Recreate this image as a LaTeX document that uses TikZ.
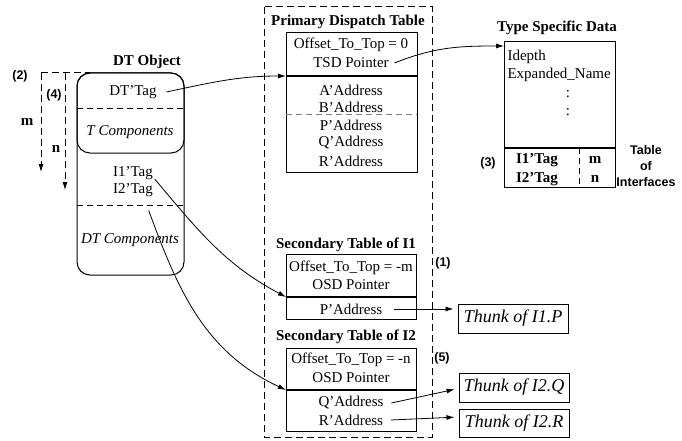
\documentclass[tikz,border=0pt]{standalone}
\usepackage{fontspec}
\setmainfont{Liberation Serif}
\newfontfamily\labelsans{Liberation Sans}
\usetikzlibrary{arrows.meta}
\begin{document}
\begin{tikzpicture}[x=1pt, y=1pt, line width=1pt,
		font=\fontsize{15}{17}\selectfont,
		ptr/.style={-{Latex[length=8pt,width=5pt]}, line width=0.8pt},
		tbltitle/.style={font=\fontsize{15}{17}\selectfont\bfseries},
		numlbl/.style={font=\labelsans\fontsize{12.5}{16}\selectfont\bfseries},
		sep/.style={line width=1.8pt},
		dash box/.style={dash pattern=on 7pt off 4pt},
		dash sep/.style={dash pattern=on 6pt off 4pt},
		thunk/.style={draw, font=\fontsize{18}{20}\selectfont\itshape, minimum width=110pt, minimum height=29pt, inner sep=0pt}]
	\useasboundingbox (0,0) rectangle (682,-441);
	% DT object and offsets
	\node[tbltitle] (dtobj) at (147,-62) {DT Object};
	\draw[rounded corners=13pt] (77,-73) rectangle (184,-275);
	\draw[rounded corners=13pt] (77,-73) rectangle (184,-153);
	\draw[dash sep] (77,-109) -- (184,-109);
	\draw[dash sep] (77,-205) -- (184,-205);
	\node (dttag) at (133,-92) {DT'Tag};
	\node[font=\fontsize{15}{17}\selectfont\itshape] (tcomp) at (130,-132) {T Components};
	\node (i1tag) at (133,-173) {I1'Tag};
	\node (i2tag) at (133,-190) {I2'Tag};
	\node[font=\fontsize{15}{17}\selectfont\itshape] (dtcomp) at (130,-240) {DT Components};
	\coordinate (offm) at (41,-73);
	\coordinate (offn) at (65,-73);
	\draw[dash box] (offm) -- (90,-73);
	\draw[dash box, ptr] (offm) -- (41,-172);
	\draw[dash box, ptr] (offn) -- (65,-190);
	\node[numlbl] (lbl2) at (20,-76) {(2)};
	\node[numlbl] (lbl4) at (54,-95) {(4)};
	\node[font=\fontsize{15}{17}\selectfont\bfseries] (mlbl) at (27,-122) {m};
	\node[font=\fontsize{15}{17}\selectfont\bfseries] (nlbl) at (56,-149) {n};
	% dispatch tables
	\draw[dash box] (264,-7) rectangle (432,-437);
	\node[tbltitle] (pdt) at (348,-22) {Primary Dispatch Table};
	\draw (286,-33) rectangle (417,-172);
	\draw[sep] (286,-76) -- (417,-76);
	\draw[dash sep, gray] (286,-115) -- (417,-115);
	\foreach \y/\t/\n in {45/{Offset\_To\_Top = 0}/poff, 63/TSD Pointer/tsd,
		90/A'Address/pa, 107/B'Address/pb, 125/P'Address/pp,
		143/Q'Address/pq, 161/R'Address/pr}
		\node (\n) at (351,-\y) {\t};
	\coordinate (pdtin) at (286,-76);
	\node[tbltitle] (st1) at (346,-245) {Secondary Table of I1};
	\draw (286,-254) rectangle (416,-319);
	\draw[sep] (286,-297) -- (416,-297);
	\node (s1off) at (351,-268) {Offset\_To\_Top = -m};
	\node (s1osd) at (351,-285) {OSD Pointer};
	\node (s1p) at (351,-309) {P'Address};
	\coordinate (st1in) at (286,-297);
	\node[tbltitle] (st2) at (346,-337) {Secondary Table of I2};
	\draw (286,-348) rectangle (416,-431);
	\draw[sep] (286,-390) -- (416,-390);
	\node (s2off) at (351,-360) {Offset\_To\_Top = -n};
	\node (s2osd) at (351,-378) {OSD Pointer};
	\node (s2q) at (351,-403) {Q'Address};
	\node (s2r) at (351,-420) {R'Address};
	\coordinate (st2in) at (286,-390);
	\node[numlbl] (lbl1) at (443,-263) {(1)};
	\node[numlbl] (lbl5) at (442,-358) {(5)};
	% type specific data
	\node[tbltitle] (tsdt) at (557,-28) {Type Specific Data};
	\draw (504,-42) rectangle (615,-187);
	\draw[sep] (504,-148) -- (615,-148);
	\draw[dash sep] (579,-148) -- (579,-187);
	\node[anchor=west, inner sep=2pt] (idepth) at (505,-57) {Idepth};
	\node[anchor=west, inner sep=2pt] (ename) at (505,-75) {Expanded\_Name};
	\node (dot1) at (568,-94) {:};
	\node (dot2) at (568,-112) {:};
	\node[font=\fontsize{15}{17}\selectfont\bfseries] (ti1) at (537,-160) {I1'Tag};
	\node[font=\fontsize{15}{17}\selectfont\bfseries] (ti2) at (537,-179) {I2'Tag};
	\node[font=\fontsize{15}{17}\selectfont\bfseries] (tim) at (595,-160) {m};
	\node[font=\fontsize{15}{17}\selectfont\bfseries] (tin) at (595,-179) {n};
	\node[numlbl] (lbl3) at (488,-163) {(3)};
	\node[numlbl, align=center] (toi) at (646,-166) {Table\\of\\Interfaces};
	\coordinate (tsdin) at (504,-46);
	% thunks
	\node[thunk] (thp) at (513,-318.5) {Thunk of I1.P};
	\node[thunk] (thq) at (514,-387.5) {Thunk of I2.Q};
	\node[thunk, minimum height=28pt] (thr) at (514,-423) {Thunk of I2.R};
	% pointers
	\draw[ptr] ([xshift=6pt]dttag.east) to[out=12, in=180] (pdtin);
	\draw[ptr] ([xshift=2pt]tsd.east) to[out=22, in=180] (tsdin);
	\draw[ptr] ([xshift=-2pt,yshift=-6pt]i1tag.east) to[out=-50, in=152] (st1in);
	\draw[ptr] ([xshift=-8pt,yshift=-10pt]i2tag.south east) to[out=-70, in=155] (st2in);
	\draw[ptr, shorten >=4pt] ([xshift=8pt]s1p.east) -- (s1p.east -| thp.west);
	\draw[ptr, shorten >=4pt] ([xshift=4pt]s2q.east) -- ([yshift=-1pt]thq.west);
	\draw[ptr, shorten >=4pt] ([xshift=4pt]s2r.east) -- ([yshift=6pt]thr.west);
\end{tikzpicture}
\end{document}
